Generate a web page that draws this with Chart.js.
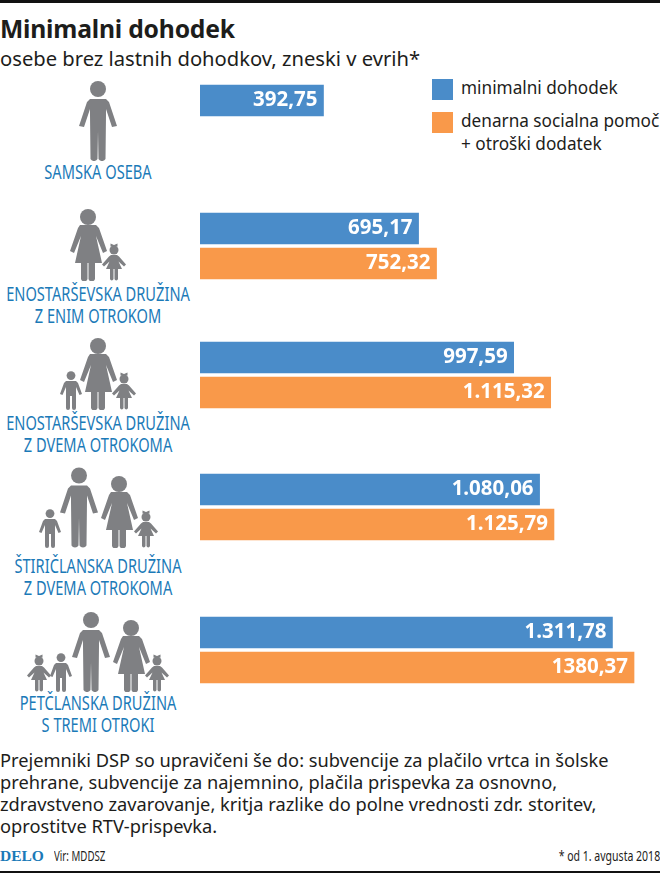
<!DOCTYPE html>
<html lang="sl">
<head>
<meta charset="utf-8">
<script src="https://cdn.jsdelivr.net/npm/chart.js@4"></script>
<style>
html, body { margin: 0; padding: 0; background: #fff; }
#page { position: relative; width: 660px; height: 873px; overflow: hidden; font-family: "Noto Sans", sans-serif; color: #1d1d1b; }
#page > * { position: absolute; }
#topline { left: 0; top: 0; width: 660px; height: 3px; background: #111; }
#bottomline { left: 0; top: 871px; width: 660px; height: 2px; background: #111; }
#title { left: 0; top: 12px; font-size: 24.700px; font-weight: 700; line-height: 34px; white-space: nowrap; letter-spacing: -0.2px; }
#subtitle { left: 0; top: 43px; font-size: 20.200px; line-height: 30px; white-space: nowrap; }
.cat { left: -52px; width: 300px; text-align: center; color: #1b7ab8; font-size: 19px; line-height: 22px; white-space: nowrap; transform: scaleX(0.77); }
.swatch { width: 21px; height: 21px; }
.legend { font-size: 17.200px; line-height: 23px; white-space: nowrap; }
#note { left: 0; top: 749px; font-size: 18.250px; line-height: 22px; white-space: nowrap; }
#delo { left: 0; top: 846px; font-family: "Liberation Serif", serif; font-weight: 700; font-size: 15.500px; line-height: 20px; color: #1b7ab8; }
#source, #date { top: 847px; font-size: 13.500px; line-height: 18px; white-space: nowrap; }
#source { left: 54px; transform: scaleX(0.72); transform-origin: left center; }
#date { right: 0; transform: scaleX(0.78); transform-origin: right center; }
.row { display: block; }
svg.icon { fill: #7f8083; stroke: #7f8083; }
</style>
</head>
<body>
<svg width="0" height="0" style="position:absolute">
  <symbol id="man" viewBox="0 0 42 80">
    <circle cx="21" cy="8" r="8" stroke="none"/>
    <path d="M13 18h16l3 3 8 24-5 1-6-18v6l-.5 44a4 4 0 0 1-7 0L21 50l-.5 28a4 4 0 0 1-7 0L13 34v-6L7 46l-5-1 8-24z" stroke="none"/>
  </symbol>
  <symbol id="woman" viewBox="0 0 37 72">
    <circle cx="18" cy="8" r="8" stroke="none"/>
    <path d="M10 16h16l3 3 8 23-4 2-7-17 6 27H25v16a3.400 3.400 0 0 1-6.500 0V54h-1v16a3.400 3.400 0 0 1-6.500 0V54H5l6-27-7 17-4-2 8-23z" stroke="none"/>
  </symbol>
  <symbol id="boy" viewBox="0 0 22 39">
    <circle cx="11" cy="4.600" r="4.400" stroke="none"/>
    <path d="M6 10h10l2 2 4 11-2.500 1L16 16v21a2 2 0 0 1-4 0V25h-2v12a2 2 0 0 1-4 0V16L2.500 24 0 23l4-11z" stroke="none"/>
  </symbol>
  <symbol id="girl" viewBox="0 0 24 39">
    <circle cx="12" cy="8" r="4.500" stroke="none"/>
    <path d="M8.500 1.500l3.500 1.500 3.500-1.500v3h-7z" stroke="none"/>
    <path d="M9 13h6l2 1.500 7 8-2 2-5.500-5 3.500 7.500h-4v10a1.800 1.800 0 0 1-3.500 0V27h-1v10a1.800 1.800 0 0 1-3.500 0V27H4l3.500-7.500-5.500 5-2-2 7-8z" stroke="none"/>
  </symbol>
</svg>
<div id="page">
  <div id="topline"></div>
  <div id="title">Minimalni dohodek</div>
  <div id="subtitle">osebe brez lastnih dohodkov, zneski v evrih*</div>

  <div class="swatch" style="left:432px;top:79px;background:#4a8cc9"></div>
  <div class="legend" style="left:461px;top:76px">minimalni dohodek</div>
  <div class="swatch" style="left:432px;top:112px;background:#f9994a"></div>
  <div class="legend" style="left:461px;top:109px">denarna socialna pomoč<span class="row">+ otroški dodatek</span></div>

  <div id="note">Prejemniki DSP so upravičeni še do: subvencije za plačilo vrtca in šolske<br>prehrane, subvencije za najemnino, plačila prispevka za osnovno,<br>zdravstveno zavarovanje, kritja razlike do polne vrednosti zdr. storitev,<br>oprostitve RTV-prispevka.</div>
  <div id="delo">DELO</div>
  <div id="source">Vir: MDDSZ</div>
  <div id="date">* od 1. avgusta 2018</div>
  <div id="bottomline"></div>
</div>
<script>
const groupNames = [
    ['SAMSKA OSEBA'],
    ['ENOSTARŠEVSKA DRUŽINA', 'Z ENIM OTROKOM'],
    ['ENOSTARŠEVSKA DRUŽINA', 'Z DVEMA OTROKOMA'],
    ['ŠTIRIČLANSKA DRUŽINA', 'Z DVEMA OTROKOMA'],
    ['PETČLANSKA DRUŽINA', 'S TREMI OTROKI'],
]
const seriesNames = ['minimalni dohodek', 'denarna socialna pomoč + otroški dodatek']
const minimalniDohodek = [392.75, 695.17, 997.59, 1080.06, 1311.78]
const socialnaPomoc = [null, 752.32, 1115.32, 1125.79, 1380.37]
const minimalniLabels = ['392,75', '695,17', '997,59', '1.080,06', '1.311,78']
const pomocLabels = ['', '752,32', '1.115,32', '1.125,79', '1380,37']

const BLUE = '#4a8cc9'
const ORANGE = '#f9994a'
const AXIS_MAX = 1463

// page layout per row: canvas top, label top, pictograms [symbol, x, y, w, h]
const rowLayout = [
    { top: 83, labelTop: 161, icons: [['man', 77, 81, 42, 80]] },
    { top: 211, labelTop: 283, icons: [['woman', 70, 209, 37, 72], ['girl', 102, 242, 24, 39]] },
    { top: 340, labelTop: 412, icons: [['woman', 80, 338, 37, 72], ['boy', 60, 371, 22, 39], ['girl', 112, 371, 24, 39]] },
    { top: 472, labelTop: 555, icons: [['man', 58, 467, 42, 81], ['woman', 101, 476, 37, 72], ['boy', 39, 509, 22, 39], ['girl', 134, 509, 24, 39]] },
    { top: 615, labelTop: 692, icons: [['man', 70, 612, 42, 80], ['woman', 113, 620, 37, 72], ['boy', 50, 653, 22, 39], ['girl', 27, 653, 24, 39], ['girl', 145, 653, 24, 39]] },
]

const barText = {
    id: 'barText',
    afterDatasetsDraw(chart, args, opts) {
        const ctx = chart.ctx
        const bars = chart.getDatasetMeta(0).data
        ctx.save()
        ctx.font = '700 20.5px "Noto Sans", sans-serif'
        ctx.fillStyle = '#fff'
        ctx.textAlign = 'right'
        ctx.textBaseline = 'middle'
        opts.texts.forEach((text, i) => {
            if (text) {
                ctx.fillText(text, bars[i].x - 6, bars[i].y)
            }
        })
        ctx.restore()
    },
}

const page = document.getElementById('page')

groupNames.forEach((lines, i) => {
    const layout = rowLayout[i]

    layout.icons.forEach(([symbol, x, y, w, h]) => {
        const svg = document.createElementNS('http://www.w3.org/2000/svg', 'svg')
        svg.setAttribute('class', 'icon')
        svg.setAttribute('width', w)
        svg.setAttribute('height', h)
        svg.style.left = `${x}px`
        svg.style.top = `${y}px`
        const use = document.createElementNS('http://www.w3.org/2000/svg', 'use')
        use.setAttribute('href', `#${symbol}`)
        svg.appendChild(use)
        page.appendChild(svg)
    })

    const label = document.createElement('div')
    label.className = 'cat'
    label.style.top = `${layout.labelTop}px`
    label.innerHTML = lines.join('<br>')
    page.appendChild(label)

    const box = document.createElement('div')
    box.style.cssText = `left:200px;top:${layout.top}px;width:460px;height:70px`
    const canvas = document.createElement('canvas')
    box.appendChild(canvas)
    page.appendChild(box)

    new Chart(canvas, {
        type: 'bar',
        data: {
            labels: seriesNames,
            datasets: [{
                data: [minimalniDohodek[i], socialnaPomoc[i]],
                backgroundColor: [BLUE, ORANGE],
                barThickness: 31,
            }],
        },
        options: {
            indexAxis: 'y',
            responsive: true,
            maintainAspectRatio: false,
            animation: false,
            layout: { padding: 0 },
            scales: {
                x: { display: false, min: 0, max: AXIS_MAX },
                y: { display: false },
            },
            plugins: {
                legend: { display: false },
                tooltip: { enabled: false },
                barText: { texts: [minimalniLabels[i], pomocLabels[i]] },
            },
        },
        plugins: [barText],
    })
})
</script>
</body>
</html>
